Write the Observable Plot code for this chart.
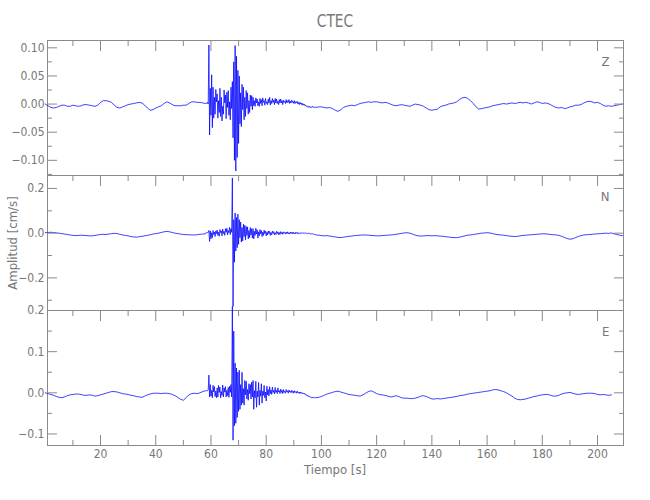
<!DOCTYPE html>
<html>
<head>
<meta charset="utf-8">
<script src="https://cdn.jsdelivr.net/npm/d3@7"></script>
<script src="https://cdn.jsdelivr.net/npm/@observablehq/plot@0.6"></script>
<style>
  html, body { margin: 0; padding: 0; background: #fff; }
  #wrap { position: relative; width: 650px; height: 500px; font-family: "Liberation Sans Narrow", "DejaVu Sans Condensed", "Liberation Sans", sans-serif; color: #777; }
  #wrap svg { position: absolute; left: 0; top: 0; }
  .lbl { position: absolute; white-space: nowrap; font-weight: 300; }
</style>
</head>
<body>
<div id="wrap">
  <div class="lbl" id="title" style="left:335px; top:10px; transform:translateX(-50%) scaleX(0.85); font-size:18px;">CTEC</div>
  <div class="lbl" style="left:335px; top:462px; transform:translateX(-50%); font-size:13px;">Tiempo [s]</div>
  <div class="lbl" style="left:12px; top:243px; transform:translate(-50%,-50%) rotate(-90deg); font-size:13px;">Amplitud [cm/s]</div>
</div>
<script>
// ---- Data ----
// Each trace: quiet part before the arrival (1 s samples from t=0),
// burst part (0.25 s samples from t=58.25 to 98), quiet part after (1 s samples from t=99).
const stations = ["Z", "N", "E"];
const preStart = 0, preStep = 1;
const burstStart = 58.25, burstStep = 0.25;
const postStart = 99, postStep = 1;

const zPre = [0,-0.003,-0.006,-0.007,-0.006,-0.004,-0.002,-0.002,-0.004,-0.004,-0.002,-0.003,-0.004,-0.003,-0.001,-0.001,-0.002,-0.003,-0.004,-0.002,0.003,0.006,0.006,0.005,0.003,-0.002,-0.006,-0.007,-0.005,-0.003,-0.001,0,0.001,0.002,0.003,0.002,-0.002,-0.007,-0.011,-0.010,-0.007,-0.005,-0.003,0.001,0.004,0.002,-0.001,-0.003,-0.003,-0.003,-0.002,-0.002,0.001,0.004,0.004,0.003,0.003,0.002,0.001];
const zBurst = [0.002,0.001,0.003,0,
  0.105,-0.055,0.028,-0.02,0.052,-0.042,0.03,-0.025,0.012,-0.018,0.026,0.004,
  0.018,-0.025,0.006,-0.015,0.028,-0.022,0.012,-0.03,-0.004,-0.018,0.025,0.002,0.016,-0.026,0.021,-0.006,0.024,-0.02,0.004,-0.028,0.03,-0.008,
  0.04,-0.06,0.075,-0.1,0.104,-0.119,0.085,-0.095,0.06,-0.07,
  0.05,-0.035,0.02,-0.04,0.035,-0.01,0.03,-0.028,0.012,-0.022,
  0.024,-0.008,0.02,-0.018,0.006,-0.015,0.016,-0.004,0.015,-0.01,
  0.012,-0.003,0.006,-0.004,0.011,0.002,0.009,-0.003,0.004,-0.004,0.01,0.001,0.008,-0.003,0.011,0.003,0.006,-0.002,0.01,0.001,0.004,-0.001,0.009,0.002,0.012,-0.002,0.006,0.001,0.01,0.003,0.007,-0.001,0.01,0.002,0.009,0.001,0.005,-0.001,0.008,0.002,
  0.009,0.002,0.006,-0.001,0.007,0.003,0.005,0.001,0.008,0.002,0.006,0.003,0.008,0.001,0.005,0.002,0.007,0.003,0.005,0.001,0.006,0.001,0.004,0.002,0.005,0,0.003,-0.001,
  0.003,0,0.002,-0.002,0.001,-0.002,0,-0.003,-0.002,-0.004,-0.003,-0.005,-0.004,-0.006,-0.004,-0.006,-0.005,-0.006,-0.004,-0.006,-0.005,-0.006,-0.005,-0.006];
const zPost = [-0.005,-0.005,-0.006,-0.007,-0.006,-0.008,-0.011,-0.013,-0.010,-0.006,-0.004,-0.003,-0.002,-0.003,-0.001,0.001,0.002,0.003,0.004,0.003,0.004,0.004,0.003,0.002,0.003,0.002,0,-0.002,-0.003,-0.002,-0.001,-0.002,-0.003,-0.004,-0.002,0,-0.001,-0.002,-0.004,-0.007,-0.010,-0.011,-0.010,-0.009,-0.005,-0.003,-0.002,0,0.001,0.002,0.004,0.008,0.011,0.012,0.010,0.006,0.001,-0.005,-0.009,-0.008,-0.007,-0.006,-0.005,-0.003,-0.002,-0.001,0,0.001,0,0.001,0.002,0.001,0.002,0.003,0.002,0.003,0.002,0,0.002,0.004,0.003,0.001,0.002,0.001,-0.001,-0.004,-0.006,-0.007,-0.006,-0.008,-0.007,-0.005,-0.004,-0.002,-0.002,-0.001,0.002,0.004,0.005,0.004,0.002,0.003,0.001,-0.002,-0.004,-0.003,-0.004,-0.003,-0.002,-0.001,0];

const nPre = [0.002,0.003,0.004,0.003,0.001,0,-0.002,-0.004,-0.006,-0.008,-0.010,-0.011,-0.010,-0.009,-0.010,-0.011,-0.012,-0.012,-0.010,-0.008,-0.006,-0.005,-0.006,-0.004,-0.002,-0.001,-0.002,-0.005,-0.008,-0.010,-0.012,-0.015,-0.017,-0.018,-0.016,-0.014,-0.012,-0.010,-0.007,-0.004,-0.002,0,0.003,0.006,0.008,0.006,0.003,0,-0.002,-0.004,-0.006,-0.007,-0.007,-0.008,-0.008,-0.007,-0.005,-0.004,-0.003];
const nBurst = [0.003,0.004,0.002,0.003,
  0.012,-0.037,0.01,-0.025,0.002,-0.02,0.012,-0.006,0.005,-0.015,0.01,-0.002,
  0.014,-0.01,0.004,-0.014,0.016,0.002,0.01,-0.012,0.018,-0.002,0.008,-0.01,0.02,0.004,0.022,-0.008,0.012,0.002,0.026,-0.006,0.02,0.004,
  0.247,-0.328,0.06,-0.13,0.09,-0.08,0.07,-0.065,0.085,-0.05,
  0.06,-0.02,0.05,-0.04,0.025,-0.035,0.04,-0.015,0.035,-0.03,
  0.03,-0.01,0.028,-0.025,0.012,-0.02,0.025,-0.008,0.02,-0.022,
  0.02,-0.025,0.008,-0.01,0.022,-0.004,0.015,-0.022,0.006,-0.012,0.016,-0.003,0.012,-0.015,0.005,-0.01,0.013,-0.002,0.01,-0.012,0.004,-0.008,0.01,-0.002,0.008,-0.01,0.003,-0.007,0.009,-0.001,0.007,-0.008,0.002,-0.006,0.008,-0.002,0.006,-0.007,0.003,-0.006,
  0.007,-0.002,0.004,-0.005,0.006,-0.001,0.003,-0.004,0.005,-0.002,0.006,-0.003,0.002,-0.004,0.005,-0.001,0.004,-0.003,0.005,-0.002,0.002,-0.004,0.004,-0.001,0.003,-0.003,0.002,-0.002,
  0.002,-0.001,0.001,-0.002,0.002,0,0.001,-0.002,0.001,-0.001,0,-0.002,0,-0.003,-0.001,-0.003,-0.002,-0.004,-0.003,-0.005,-0.004,-0.006,-0.006,-0.008];
const nPost = [-0.009,-0.011,-0.012,-0.011,-0.013,-0.015,-0.017,-0.019,-0.02,-0.018,-0.016,-0.014,-0.013,-0.011,-0.01,-0.009,-0.008,-0.008,-0.009,-0.01,-0.011,-0.012,-0.012,-0.011,-0.01,-0.009,-0.008,-0.007,-0.005,-0.003,-0.001,0.001,0.002,0,-0.004,-0.009,-0.012,-0.013,-0.012,-0.011,-0.011,-0.012,-0.011,-0.012,-0.013,-0.014,-0.016,-0.017,-0.019,-0.02,-0.02,-0.018,-0.015,-0.012,-0.009,-0.008,-0.006,-0.004,-0.002,0,0.001,0.002,0.001,-0.002,-0.005,-0.007,-0.008,-0.009,-0.011,-0.013,-0.014,-0.015,-0.014,-0.012,-0.01,-0.009,-0.008,-0.007,-0.006,-0.005,-0.004,-0.003,-0.003,-0.004,-0.006,-0.007,-0.008,-0.01,-0.014,-0.019,-0.024,-0.027,-0.025,-0.02,-0.015,-0.011,-0.008,-0.007,-0.006,-0.005,-0.004,-0.003,-0.002,-0.001,0,-0.001,0.001,-0.003,-0.006,-0.009,-0.011];

const ePre = [0,-0.002,-0.004,-0.006,-0.009,-0.011,-0.012,-0.010,-0.007,-0.005,-0.004,-0.003,-0.003,-0.004,-0.006,-0.006,-0.005,-0.006,-0.008,-0.007,-0.005,-0.003,-0.001,0.001,0.003,0.003,0.002,0,-0.002,-0.003,-0.004,-0.006,-0.007,-0.009,-0.01,-0.011,-0.008,-0.005,-0.003,-0.001,-0.001,-0.001,-0.002,-0.001,-0.001,-0.002,-0.004,-0.007,-0.011,-0.016,-0.018,-0.012,-0.005,-0.002,-0.001,-0.002,0,0.003,0.005];
const eBurst = [0.004,0.006,0.005,0.007,
  0.043,-0.01,0.02,-0.008,0.006,-0.012,0.018,0.002,0.015,-0.009,0.004,-0.012,
  0.012,-0.01,0.018,0.001,0.014,-0.012,0.003,-0.006,0.019,-0.01,0.012,0.002,0.015,-0.01,0.006,-0.007,0.013,-0.011,0.016,0.001,0.02,-0.01,
  0.21,-0.115,0.15,-0.08,0.072,-0.074,0.06,-0.06,0.05,-0.045,
  0.055,-0.04,0.02,-0.03,0.05,-0.025,0.01,-0.03,0.03,-0.005,
  0.028,-0.015,0.008,-0.018,0.022,-0.002,0.02,-0.015,0.026,-0.01,
  0.03,-0.04,0.005,-0.012,0.028,-0.035,0.004,-0.01,0.025,-0.03,0.006,-0.008,0.022,-0.025,0.004,-0.006,0.018,-0.012,0.002,-0.02,0.016,-0.005,0.008,-0.008,0.015,-0.002,0.007,-0.004,0.014,0.001,0.006,-0.003,0.013,0.001,0.006,-0.002,0.012,0.002,0.005,-0.002,
  0.009,0.001,0.006,-0.002,0.008,0.001,0.004,-0.001,0.008,0.002,0.005,-0.001,0.007,0.002,0.004,0,0.006,0.001,0.004,-0.001,0.005,0.001,0.003,-0.001,0.004,0,0.002,-0.002,
  0.002,-0.001,0.001,-0.002,0,-0.003,-0.001,-0.004,-0.003,-0.006,-0.005,-0.008,-0.007,-0.01,-0.009,-0.011,-0.01,-0.012,-0.011,-0.013,-0.011,-0.013,-0.011,-0.012];
const ePost = [-0.011,-0.009,-0.006,-0.003,-0.001,0.001,0.003,0.004,0.002,0,-0.002,-0.004,-0.005,-0.006,-0.007,-0.008,-0.005,-0.001,0.003,0.005,0.002,-0.002,-0.004,-0.005,-0.006,-0.008,-0.01,-0.009,-0.007,-0.009,-0.012,-0.013,-0.013,-0.014,-0.014,-0.013,-0.011,-0.008,-0.007,-0.009,-0.012,-0.015,-0.015,-0.014,-0.015,-0.014,-0.013,-0.012,-0.011,-0.01,-0.009,-0.007,-0.006,-0.005,-0.003,-0.002,-0.001,0,0.001,0.002,0.003,0.004,0.005,0.007,0.008,0.007,0.005,0.003,0,-0.004,-0.008,-0.013,-0.016,-0.017,-0.016,-0.015,-0.013,-0.011,-0.009,-0.008,-0.006,-0.005,-0.004,-0.004,-0.006,-0.008,-0.008,-0.006,-0.003,-0.001,0,0.001,-0.001,-0.003,-0.004,-0.003,-0.002,-0.001,-0.001,-0.001,-0.002,-0.004,-0.005,-0.004,-0.005,-0.006,-0.005];

// Axis ticks / domains
const xDomain = [0.8, 209.4];
const xMajor = [20, 40, 60, 80, 100, 120, 140, 160, 180, 200];
const xMinor = [10, 30, 50, 70, 90, 110, 130, 150, 170, 190];
const zDomain = [-0.127, 0.113], zMajor = [-0.10, -0.05, 0, 0.05, 0.10], zMinor = [-0.125, -0.075, -0.025, 0.025, 0.075];
const nDomain = [-0.346, 0.258], nMajor = [-0.2, 0, 0.2], nMinor = [-0.3, -0.1, 0.1];
const eDomain = [-0.128, 0.2], eMajor = [-0.1, 0, 0.1, 0.2], eMinor = [-0.05, 0.05, 0.15];

function series(pre, burst, post) {
  const out = [];
  pre.forEach((v, i) => out.push({t: preStart + i * preStep, v}));
  burst.forEach((v, i) => out.push({t: burstStart + i * burstStep, v}));
  post.forEach((v, i) => out.push({t: postStart + i * postStep, v}));
  return out;
}

const panels = [
  {name: "Z", data: series(zPre, zBurst, zPost), domain: zDomain, major: zMajor, minor: zMinor, fmt: d3.format(".2f"), top: 40, bottom: 175, xLabels: false},
  {name: "N", data: series(nPre, nBurst, nPost), domain: nDomain, major: nMajor, minor: nMinor, fmt: d3.format(".1f"), top: 175, bottom: 310, xLabels: false},
  {name: "E", data: series(ePre, eBurst, ePost), domain: eDomain, major: eMajor, minor: eMinor, fmt: d3.format(".1f"), top: 310, bottom: 445, xLabels: true}
];

const axisColor = "#8a8a8a";
const textColor = "#777";
const wrap = document.getElementById("wrap");

for (const p of panels) {
  const marks = [
    Plot.frame({stroke: axisColor, strokeWidth: 1}),
    Plot.line(p.data, {x: "t", y: "v", stroke: "#0000ff", strokeWidth: 0.75}),
    // left axis: inward ticks + labels
    Plot.axisY(p.major, {anchor: "left", tickSize: -10, text: null, stroke: axisColor, label: null}),
    Plot.axisY(p.minor, {anchor: "left", tickSize: -5, text: null, stroke: axisColor, label: null}),
    Plot.axisY(p.major, {anchor: "left", tickSize: 0, tickPadding: 3, tickFormat: p.fmt, fill: textColor, label: null}),
    // right axis: inward ticks
    Plot.axisY(p.major, {anchor: "right", tickSize: -10, text: null, stroke: axisColor, label: null}),
    Plot.axisY(p.minor, {anchor: "right", tickSize: -5, text: null, stroke: axisColor, label: null}),
    // top axis: inward ticks
    Plot.axisX(xMajor, {anchor: "top", tickSize: -10, text: null, stroke: axisColor, label: null}),
    Plot.axisX(xMinor, {anchor: "top", tickSize: -5, text: null, stroke: axisColor, label: null}),
    Plot.text([p.name], {frameAnchor: "top-right", dx: -14, dy: 16, text: d => d, fontSize: 13, fill: textColor})
  ];
  if (p.xLabels) {
    marks.push(
      Plot.axisX(xMajor, {anchor: "bottom", tickSize: -10, text: null, stroke: axisColor, label: null}),
      Plot.axisX(xMinor, {anchor: "bottom", tickSize: -5, text: null, stroke: axisColor, label: null}),
      Plot.axisX(xMajor, {anchor: "bottom", tickSize: 0, tickPadding: 4, fill: textColor, label: null})
    );
  }
  const svg = Plot.plot({
    width: 650,
    height: 500,
    marginLeft: 47,
    marginRight: 27,
    marginTop: p.top,
    marginBottom: 500 - p.bottom,
    x: {domain: xDomain, label: null},
    y: {domain: p.domain, label: null},
    style: {background: "transparent", overflow: "visible", fontFamily: "'Liberation Sans Narrow', 'DejaVu Sans Condensed', 'Liberation Sans', sans-serif", fontSize: "12px", color: textColor},
    marks
  });
  wrap.appendChild(svg);
}
</script>
</body>
</html>
